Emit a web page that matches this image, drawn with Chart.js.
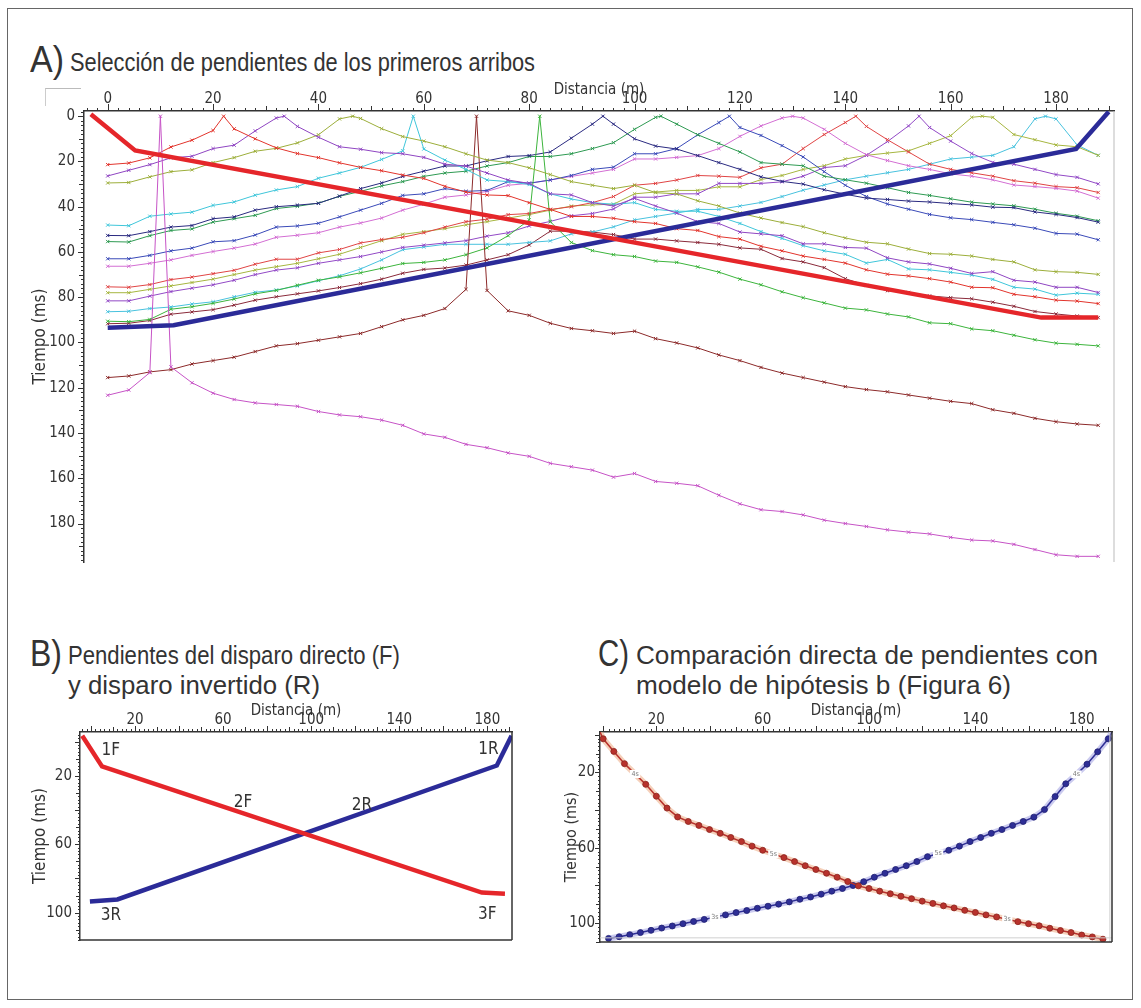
<!DOCTYPE html>
<html>
<head>
<meta charset="utf-8">
<script src="https://cdn.jsdelivr.net/npm/chart.js@4.4.1/dist/chart.umd.min.js"></script>
<style>
  html, body { margin: 0; padding: 0; background: #fff; }
  #page { position: relative; width: 1141px; height: 1008px; overflow: hidden;
          font-family: "Liberation Sans", Arial, sans-serif; color: #333; }
  .frame { position: absolute; left: 7px; top: 8px; width: 1124px; height: 990px; border: 1.5px solid #666; }
  .txt { position: absolute; white-space: nowrap; line-height: 1; transform-origin: left top; }
  .big { font-size: 36px; }
  .ttl { font-size: 26px; }
  .mark { position: absolute; left: 45px; top: 88px; width: 35px; height: 17px;
          border-top: 1px solid #bbb; border-left: 1px solid #ccc; }
  canvas { position: absolute; }
</style>
</head>
<body>
<div id="page">
  <div class="frame"></div>

  <div class="txt big" data-w="34" style="left:30px; top:42px;">A)</div>
  <div class="txt ttl" data-w="465" style="left:70px; top:49px;">Selección de pendientes de los primeros arribos</div>
  <div class="mark"></div>

  <div class="txt big" data-w="32" style="left:30px; top:636px;">B)</div>
  <div class="txt ttl" data-w="332" style="left:68px; top:642px;">Pendientes del disparo directo (F)</div>
  <div class="txt ttl" data-w="252" style="left:68px; top:672px;">y disparo invertido (R)</div>

  <div class="txt big" data-w="31" style="left:598px; top:636px;">C)</div>
  <div class="txt ttl" data-w="462" style="left:636px; top:642px;">Comparación directa de pendientes con</div>
  <div class="txt ttl" data-w="375" style="left:636px; top:672px;">modelo de hipótesis b (Figura 6)</div>

  <canvas id="chartA" width="1141" height="510" style="left:0px; top:70px;"></canvas>
  <canvas id="chartB" width="560" height="270" style="left:0px; top:690px;"></canvas>
  <canvas id="chartC" width="581" height="270" style="left:560px; top:690px;"></canvas>
</div>

<script>
// narrow the heading lines to their set widths
document.querySelectorAll('.txt[data-w]').forEach(el => {
  const w = el.getBoundingClientRect().width;
  el.style.transform = 'scaleX(' + (Number(el.dataset.w) / w).toFixed(4) + ')';
});

// ---------------- Panel A: first-arrival picks per shot ----------------
const recDist = [0, 4, 8, 12, 16, 20, 24, 28, 32, 36, 40, 44, 48, 52, 56, 60, 64, 68, 72, 76,
                 80, 84, 88, 92, 96, 100, 104, 108, 112, 116, 120, 124, 128, 132, 136, 140,
                 144, 148, 152, 156, 160, 164, 168, 172, 176, 180, 184, 188];

const shotPos = [10, 22, 33.5, 46.5, 58, 70, 82, 94, 105, 118, 130, 142, 154, 166, 178];

const t10 = [123.3, 121.0, 113.3, 110.8, 117.8, 122.4, 125.2, 126.7, 127.4, 128.2, 130.5, 132.0,
             132.8, 134.3, 136.6, 140.4, 141.9, 145.0, 146.5, 148.8, 150.3, 153.4, 154.9, 156.4,
             159.5, 157.9, 161.4, 162.2, 163.3, 167.5, 171.3, 173.9, 174.7, 176.2, 178.5, 180.0,
             181.3, 182.8, 183.8, 184.6, 186.1, 187.3, 187.7, 189.2, 191.5, 193.8, 194.5, 194.5];
const t22 = [21.4, 20.7, 18.4, 13.6, 10.6, 6.3, 5.6, 10.0, 14.0, 16.5, 18.3, 20.6,
             22.6, 24.1, 26.0, 27.5, 31.0, 33.5, 34.8, 35.1, 38.2, 41.2, 44.3, 44.3,
             45.1, 46.6, 47.4, 49.7, 50.5, 53.2, 54.3, 57.5, 59.5, 61.8, 63.3, 64.9,
             67.9, 69.8, 70.6, 71.8, 73.3, 75.6, 75.8, 78.7, 79.8, 81.3, 81.7, 82.8];
const t33 = [26.4, 23.9, 21.4, 18.4, 17.7, 14.3, 12.8, 6.5, 0.8, 4.5, 9.3, 13.5,
             14.6, 16.1, 16.6, 18.2, 21.2, 22.0, 25.1, 28.2, 29.7, 34.3, 34.8, 38.2,
             39.7, 36.3, 39.7, 42.8, 46.6, 47.4, 51.2, 52.0, 52.8, 56.4, 56.4, 58.0,
             58.3, 62.6, 64.4, 65.3, 67.2, 69.5, 68.7, 72.5, 73.3, 75.6, 75.6, 77.9];
const t47 = [29.5, 29.3, 26.8, 24.5, 23.7, 20.5, 18.3, 15.5, 14.2, 11.8, 8.2, 1.2,
             1.0, 5.5, 9.0, 11.0, 13.5, 16.6, 19.4, 20.5, 22.8, 25.8, 28.9, 30.5,
             32.0, 30.5, 33.8, 34.3, 37.4, 39.7, 42.8, 45.0, 47.0, 48.8, 51.5, 53.8,
             55.7, 56.4, 58.7, 60.7, 61.0, 61.8, 63.3, 64.4, 67.9, 68.7, 69.0, 69.9];
const t58 = [48.1, 48.4, 44.2, 43.2, 42.4, 39.4, 37.9, 34.9, 32.6, 31.1, 27.4, 25.1,
             22.6, 19.1, 15.3, 14.5, 19.4, 23.5, 28.2, 28.9, 30.2, 34.3, 36.6, 38.2,
             38.9, 38.2, 41.2, 42.0, 42.0, 44.3, 47.4, 51.0, 54.0, 57.2, 59.5, 61.0,
             64.9, 63.3, 67.5, 67.9, 69.0, 70.2, 72.1, 75.6, 76.4, 79.1, 78.2, 78.7];
const t70 = [115.5, 114.8, 113.0, 112.0, 109.5, 108.0, 106.5, 104.0, 101.5, 100.5, 99.0, 97.5,
             96.0, 93.0, 90.0, 88.0, 85.0, 76.5, 77.0, 86.0, 88.0, 91.5, 93.8, 94.8,
             96.0, 95.0, 98.3, 100.2, 102.4, 105.5, 108.0, 111.0, 113.5, 115.5, 117.5, 119.5,
             120.8, 121.8, 123.2, 124.6, 126.0, 127.0, 129.7, 131.3, 133.5, 135.0, 136.0, 136.6];
const t82 = [90.6, 90.8, 89.8, 85.3, 84.2, 82.7, 80.8, 78.5, 77.0, 74.7, 72.5, 71.0,
             69.2, 67.2, 65.1, 64.6, 63.5, 61.2, 58.2, 52.8, 45.8, 46.6, 55.8, 59.4,
             61.2, 62.0, 64.0, 64.6, 66.6, 68.9, 72.0, 74.5, 77.6, 80.2, 82.5, 84.8,
             85.6, 87.4, 88.7, 91.3, 91.7, 94.0, 94.8, 96.8, 98.8, 100.3, 100.8, 101.5];
const t94 = [52.7, 52.8, 51.0, 49.0, 48.3, 45.3, 44.5, 41.5, 40.0, 39.3, 38.5, 35.3,
             32.0, 29.5, 26.6, 24.3, 22.0, 22.0, 19.7, 17.8, 17.4, 15.8, 9.7, 3.5,
             3.5, 10.0, 13.2, 14.5, 17.4, 20.5, 23.5, 26.8, 28.8, 30.0, 32.5, 34.5,
             36.2, 36.8, 37.5, 37.9, 38.6, 39.2, 40.2, 40.4, 42.3, 43.4, 44.8, 46.8];
const t105 = [55.4, 55.6, 52.8, 50.5, 49.8, 46.8, 45.3, 43.8, 40.8, 39.8, 38.4, 35.4,
              33.2, 30.8, 28.9, 26.6, 25.1, 24.3, 22.0, 20.5, 17.8, 17.8, 16.6, 14.3,
              11.7, 5.8, 0.5, 3.5, 8.2, 12.0, 15.8, 20.5, 21.2, 21.9, 26.5, 28.1,
              29.6, 31.6, 33.7, 35.0, 36.5, 38.0, 38.8, 39.6, 41.1, 42.9, 44.2, 46.2];
const t118 = [63.0, 63.0, 61.5, 59.5, 58.3, 55.5, 55.0, 52.5, 49.0, 48.5, 47.3, 44.5,
              41.5, 38.5, 35.0, 34.3, 32.0, 33.2, 32.8, 28.9, 29.6, 28.2, 26.2, 23.5,
              22.5, 16.6, 16.6, 14.3, 8.2, 2.8, 5.0, 8.5, 13.0, 18.0, 24.5, 30.5,
              35.5, 38.8, 41.1, 43.4, 44.9, 45.7, 46.9, 48.0, 49.5, 51.8, 52.1, 54.6];
const t130 = [66.3, 66.3, 65.0, 63.5, 61.5, 59.8, 58.3, 56.5, 53.5, 52.6, 51.5, 49.0,
              47.2, 45.0, 41.5, 38.9, 35.8, 34.8, 33.2, 30.5, 29.7, 28.2, 26.6, 25.1,
              23.5, 18.9, 18.9, 18.2, 17.4, 14.3, 8.9, 4.3, 0.8, 0.8, 5.8, 12.0,
              17.0, 19.6, 21.9, 23.5, 25.5, 26.5, 28.1, 30.4, 31.1, 31.9, 33.1, 36.2];
const t142 = [75.4, 75.6, 74.4, 72.2, 71.1, 69.6, 68.1, 65.4, 63.2, 63.2, 60.4, 58.9,
              56.0, 54.5, 53.5, 51.5, 49.0, 46.6, 45.5, 43.5, 43.0, 41.2, 40.0, 38.2,
              35.5, 30.5, 29.7, 28.2, 26.2, 26.5, 27.0, 22.8, 21.2, 14.3, 8.1, 2.8,
              4.5, 10.4, 15.8, 21.2, 23.5, 25.0, 26.5, 28.5, 29.6, 31.1, 31.6, 33.7];
const t154 = [81.6, 81.6, 79.5, 77.5, 76.0, 74.5, 72.5, 70.0, 68.0, 67.0, 65.0, 63.5,
              62.0, 60.0, 58.0, 57.0, 56.0, 55.0, 53.0, 51.5, 48.5, 46.5, 44.0, 43.0,
              41.0, 35.8, 35.8, 34.3, 34.3, 29.7, 29.7, 29.7, 29.0, 26.5, 22.7, 21.9,
              17.3, 11.2, 4.3, 5.0, 11.0, 16.5, 20.4, 21.2, 23.5, 25.8, 27.0, 29.9];
const t166 = [78.0, 78.0, 76.5, 75.0, 73.5, 72.0, 70.0, 68.0, 66.5, 65.0, 63.0, 61.0,
              58.0, 55.0, 52.2, 51.0, 49.7, 48.0, 46.6, 45.0, 43.5, 41.5, 39.7, 39.2,
              38.9, 34.3, 33.5, 32.8, 32.8, 31.2, 31.2, 28.0, 26.2, 23.5, 21.9, 18.9,
              17.3, 16.3, 15.3, 12.0, 8.6, 0.5, 0.5, 8.1, 10.4, 12.7, 13.5, 17.3];
const t178 = [86.4, 86.2, 85.0, 84.3, 83.0, 82.0, 79.8, 77.8, 76.8, 75.0, 72.7, 70.5,
              67.5, 63.5, 59.0, 57.8, 56.6, 56.6, 56.6, 56.6, 55.8, 55.1, 52.0, 51.2,
              48.9, 45.8, 44.3, 42.8, 41.2, 41.2, 39.7, 38.1, 35.5, 32.7, 30.4, 28.1,
              26.5, 25.0, 23.5, 21.2, 18.9, 18.1, 17.3, 13.5, 1.2, 1.2, 12.7, 17.3];
// off-spread shot (no zero-offset trace inside the line)
const tOff = [91.7, 91.5, 90.3, 87.5, 86.5, 85.5, 83.5, 81.3, 79.8, 78.5, 77.2, 75.7,
              74.0, 72.0, 69.4, 67.7, 67.1, 65.8, 63.5, 61.2, 56.9, 50.8, 50.8, 51.2,
              52.3, 54.3, 54.3, 55.1, 55.8, 56.6, 58.2, 58.8, 62.9, 64.4, 66.9, 71.8,
              74.8, 77.1, 77.9, 79.4, 80.2, 80.7, 82.2, 84.0, 86.3, 87.4, 88.3, 89.0];

const shotTimes = [t10, t22, t33, t47, t58, t70, t82, t94, t105, t118, t130, t142, t154, t166, t178];

// selected slopes (direct shot F, reverse shot R)
const aFDist = [-3.2, 5.2, 177.2, 188.0];
const aFTime = [-0.9, 15.1, 89.0, 89.0];
const aRDist = [0.0, 12.5, 183.8, 190.0];
const aRTime = [93.5, 92.4, 14.5, -2.0];

const aDistTicks = [0, 20, 40, 60, 80, 100, 120, 140, 160, 180];
const aTimeTicks = [0, 20, 40, 60, 80, 100, 120, 140, 160, 180];

// ---------------- Panel B: slopes F / R ----------------
const bFDist = [-4.0, 5.0, 177.5, 188.0];
const bFTime = [-3.4, 14.5, 88.3, 89.0];
const bRDist = [-0.5, 12.0, 184.3, 191.0];
const bRTime = [93.5, 92.3, 14.0, -3.4];
const bDistTicks = [20, 60, 100, 140, 180];
const bTimeTicks = [20, 60, 100];

// ---------------- Panel C: model comparison ----------------
const cRedTime = [2.1, 8.8, 15.3, 20.8, 26.3, 32.6, 38.9, 43.6, 46.0, 48.1, 50.3, 52.3,
                  54.5, 56.7, 59.1, 61.3, 63.3, 65.2, 67.3, 69.5, 71.5, 73.5, 75.6, 77.9,
                  80.2, 81.6, 83.0, 84.4, 85.7, 87.0, 88.3, 89.5, 90.8, 91.9, 93.2, 94.3,
                  95.6, 96.7, 97.9, 99.2, 100.3, 101.4, 102.7, 103.9, 105.0, 106.3, 107.3, 108.5];
const cBlueDist = [190, 186, 182, 178, 174, 170, 166, 162, 158, 154, 150, 146,
                   142, 138, 134, 130, 126, 122, 118, 114, 110, 106, 102, 98,
                   94, 90, 86, 82, 78, 74, 70, 66, 62, 58, 54, 50,
                   46, 42, 38, 34, 30, 26, 22, 18, 14, 10, 6, 2];
const cBlueTime = [2.1, 9.0, 15.6, 21.0, 26.0, 32.8, 39.7, 43.7, 46.0, 48.1, 50.3, 52.3,
                   54.5, 56.7, 59.1, 61.3, 63.0, 64.7, 67.3, 69.5, 71.5, 73.5, 75.6, 78.0,
                   80.0, 81.6, 83.0, 84.6, 86.1, 87.3, 88.7, 89.9, 91.0, 92.1, 93.3, 94.4,
                   95.6, 96.8, 98.0, 99.1, 100.3, 101.5, 102.6, 103.8, 105.0, 106.1, 107.2, 108.1];
const cDistTicks = [20, 60, 100, 140, 180];
const cTimeTicks = [20, 60, 100];
// layer tags written on the model curves: [point index, text]
const cRedTags = [[3, '4s'], [16, '5s'], [38, '3s']];
const cBlueTags = [[3, '4s'], [16, '5s'], [37, '3s']];

// ---------------- styling ----------------
const FONT = '"Liberation Sans Narrow", "DejaVu Sans Condensed", "Liberation Sans", Arial, sans-serif';
const INK = '#333';
const shotColors = ['#c653c6', '#e2342c', '#8f45c2', '#9cae3a', '#3fc6da', '#8c2a2a', '#3cb43c',
                    '#2a2a80', '#2e9a52', '#3a4ab8', '#d36ed3', '#e04444', '#9249c6', '#a6b640', '#48c2de'];
const offColor = '#8a2a3a';
const pickRed = '#e5262a';
const pickBlue = '#2b2b98';

Chart.defaults.font.family = FONT;
Chart.defaults.color = INK;

// tick marks drawn outward from the axes (minor / mid / labelled)
const tickMarks = {
  id: 'tickMarks',
  afterDraw(chart, args, opts) {
    const ctx = chart.ctx, ca = chart.chartArea;
    ctx.save();
    ctx.strokeStyle = INK;
    ctx.lineWidth = 1;
    for (const id of ['x', 'y']) {
      const o = opts[id];
      if (!o) continue;
      const s = chart.scales[id];
      const lo = Math.ceil(Math.min(s.min, s.max) / o.step - 1e-9);
      const hi = Math.floor(Math.max(s.min, s.max) / o.step + 1e-9);
      ctx.beginPath();
      for (let k = lo; k <= hi; k++) {
        const v = Math.round(k * o.step * 1000) / 1000;
        let len = o.len[0];
        if (Math.abs(v % o.major) < 1e-6) len = o.len[2];
        else if (Math.abs(v % o.mid) < 1e-6) len = o.len[1];
        const p = Math.round(s.getPixelForValue(v)) + 0.5;
        if (id === 'x') { ctx.moveTo(p, ca.top); ctx.lineTo(p, ca.top - len); }
        else { ctx.moveTo(ca.left, p); ctx.lineTo(ca.left - len, p); }
      }
      ctx.stroke();
    }
    ctx.restore();
  }
};

// extra frame lines (right / bottom edges, faint guide lines)
const frameLines = {
  id: 'frameLines',
  afterDraw(chart, args, opts) {
    const ctx = chart.ctx, ca = chart.chartArea;
    ctx.save();
    for (const l of (opts.lines || [])) {
      ctx.strokeStyle = l.color;
      ctx.lineWidth = l.width;
      ctx.beginPath();
      if (l.side === 'right') { ctx.moveTo(ca.right, ca.top); ctx.lineTo(ca.right, ca.bottom); }
      if (l.side === 'bottom') { ctx.moveTo(ca.left, ca.bottom); ctx.lineTo(ca.right, ca.bottom); }
      if (l.xValue !== undefined) {
        const p = chart.scales.x.getPixelForValue(l.xValue);
        ctx.moveTo(p, ca.top); ctx.lineTo(p, ca.bottom);
      }
      if (l.yValue !== undefined) {
        const p = chart.scales.y.getPixelForValue(l.yValue);
        ctx.moveTo(ca.left, p); ctx.lineTo(ca.right, p);
      }
      ctx.stroke();
    }
    ctx.restore();
  }
};

// text labels placed at data positions or on dataset points
const curveLabels = {
  id: 'curveLabels',
  afterDatasetsDraw(chart, args, opts) {
    const ctx = chart.ctx;
    ctx.save();
    for (const l of (opts.items || [])) {
      let px, py;
      if (l.dataset !== undefined) {
        const pt = chart.data.datasets[l.dataset].data[l.index];
        px = chart.scales.x.getPixelForValue(pt.x);
        py = chart.scales.y.getPixelForValue(pt.y);
      } else {
        px = chart.scales.x.getPixelForValue(l.x);
        py = chart.scales.y.getPixelForValue(l.y);
      }
      ctx.font = l.font;
      ctx.textAlign = 'center';
      ctx.textBaseline = 'middle';
      if (l.bg) {
        const w = ctx.measureText(l.text).width + 3;
        ctx.fillStyle = l.bg;
        ctx.fillRect(px - w / 2, py - 4, w, 8);
      }
      ctx.fillStyle = l.color;
      ctx.fillText(l.text, px, py);
    }
    ctx.restore();
  }
};

function xy(xs, ys) { return xs.map((x, i) => ({ x: x, y: ys[i] })); }

function shotCurve(times, shot) {
  const pts = xy(recDist, times);
  if (shot !== null) {
    pts.push({ x: shot, y: 0 });
    pts.sort((a, b) => a.x - b.x);
  }
  return pts;
}

function axes(cfg) {
  return {
    x: {
      type: 'linear', position: 'top', min: cfg.xMin, max: cfg.xMax,
      afterBuildTicks: s => { s.ticks = cfg.xTicks.map(v => ({ value: v })); },
      afterFit: s => { s.height = cfg.xHeight; },
      grid: { display: false, drawTicks: false },
      border: { display: true, color: INK, width: 1.5 },
      ticks: { color: INK, font: { family: FONT, size: 15 }, padding: cfg.xPad, maxRotation: 0, autoSkip: false },
      title: { display: true, text: 'Distancia (m)', color: INK, font: { family: FONT, size: 15 },
               padding: { top: cfg.xTitleTop, bottom: 0 } }
    },
    y: {
      type: 'linear', reverse: true, min: cfg.yMin, max: cfg.yMax,
      afterBuildTicks: s => { s.ticks = cfg.yTicks.map(v => ({ value: v })); },
      afterFit: s => { s.width = cfg.yWidth; },
      grid: { display: false, drawTicks: false },
      border: { display: true, color: INK, width: 1.5 },
      ticks: { color: INK, font: { family: FONT, size: 15 }, padding: cfg.yPad, autoSkip: false },
      title: { display: true, text: 'Tiempo (ms)', color: INK, font: { family: FONT, size: cfg.yTitleSize },
               padding: { top: cfg.yTitleTop, bottom: 0 } }
    }
  };
}

const common = {
  responsive: false, animation: false, devicePixelRatio: 1, events: [],
  plugins: { legend: { display: false }, tooltip: { enabled: false } }
};

// ---- Panel A ----
const aSets = [];
aSets.push({ data: xy(aFDist, aFTime), borderColor: pickRed, borderWidth: 4.5, pointRadius: 0, order: 0 });
aSets.push({ data: xy(aRDist, aRTime), borderColor: pickBlue, borderWidth: 4.5, pointRadius: 0, order: 0 });
shotTimes.forEach((t, i) => {
  aSets.push({ data: shotCurve(t, shotPos[i]), borderColor: shotColors[i], borderWidth: 1,
               pointStyle: 'crossRot', pointRadius: 2.3, pointBorderWidth: 1,
               pointBorderColor: shotColors[i], order: 1 });
});
aSets.push({ data: shotCurve(tOff, null), borderColor: offColor, borderWidth: 1,
             pointStyle: 'crossRot', pointRadius: 2.3, pointBorderWidth: 1,
             pointBorderColor: offColor, order: 1 });

new Chart(document.getElementById('chartA'), {
  type: 'scatter',
  data: { datasets: aSets.map(d => Object.assign({ showLine: true, tension: 0 }, d)) },
  options: Object.assign({}, common, {
    layout: { padding: { left: 0, right: 27, top: 0, bottom: 10 } },
    scales: axes({ xMin: -4.5, xMax: 191, yMin: -2.3, yMax: 197, xTicks: aDistTicks, yTicks: aTimeTicks,
                   xHeight: 41, yWidth: 84, xPad: 3, yPad: 9, xTitleTop: 11, yTitleTop: 30, yTitleSize: 17 }),
    plugins: Object.assign({}, common.plugins, {
      tickMarks: { x: { step: 2, mid: 10, major: 20, len: [3, 5, 7] },
                   y: { step: 2, mid: 10, major: 20, len: [3, 5, 6] } },
      frameLines: { lines: [{ side: 'right', color: '#bbb', width: 1 }] }
    })
  }),
  plugins: [tickMarks, frameLines]
});

// ---- Panel B ----
new Chart(document.getElementById('chartB'), {
  type: 'scatter',
  data: { datasets: [
    { data: xy(bFDist, bFTime), showLine: true, borderColor: pickRed, borderWidth: 4.5, pointRadius: 0 },
    { data: xy(bRDist, bRTime), showLine: true, borderColor: pickBlue, borderWidth: 4.5, pointRadius: 0 }
  ] },
  options: Object.assign({}, common, {
    layout: { padding: { left: 0, right: 48, top: 0, bottom: 20 } },
    scales: axes({ xMin: -5, xMax: 191.2, yMin: -5.6, yMax: 116, xTicks: bDistTicks, yTicks: bTimeTicks,
                   xHeight: 42, yWidth: 80, xPad: 3, yPad: 8, xTitleTop: 12, yTitleTop: 30, yTitleSize: 17 }),
    plugins: Object.assign({}, common.plugins, {
      tickMarks: { x: { step: 2, mid: 10, major: 20, len: [3, 5, 6] },
                   y: { step: 2, mid: 10, major: 20, len: [2, 4, 5] } },
      frameLines: { lines: [{ side: 'right', color: INK, width: 1.5 }, { side: 'bottom', color: INK, width: 1.5 }] },
      curveLabels: { items: [
        { x: 9, y: 5, text: '1F', font: '17px ' + FONT, color: INK },
        { x: 69, y: 35.5, text: '2F', font: '17px ' + FONT, color: INK },
        { x: 123, y: 37.5, text: '2R', font: '17px ' + FONT, color: INK },
        { x: 180.5, y: 4.5, text: '1R', font: '17px ' + FONT, color: INK },
        { x: 9, y: 102, text: '3R', font: '17px ' + FONT, color: INK },
        { x: 180, y: 101, text: '3F', font: '17px ' + FONT, color: INK }
      ] }
    })
  }),
  plugins: [tickMarks, frameLines, curveLabels]
});

// ---- Panel C ----
const cRed = [{ x: -1.2, y: -1.5 }].concat(xy(recDist, cRedTime));
const cBlue = [{ x: 191.4, y: -1.5 }].concat(xy(cBlueDist, cBlueTime));
const redSkip = cRedTags.map(t => t[0] + 1);
const blueSkip = cBlueTags.map(t => t[0] + 1);

const tagItems = cRedTags.map(t => ({ dataset: 2, index: t[0] + 1, text: t[1], font: '7px ' + FONT, color: '#7a7a7a', bg: '#fff' }))
  .concat(cBlueTags.map(t => ({ dataset: 3, index: t[0] + 1, text: t[1], font: '7px ' + FONT, color: '#7a7a7a', bg: '#fff' })));

new Chart(document.getElementById('chartC'), {
  type: 'scatter',
  data: { datasets: [
    { data: cRed, showLine: true, borderColor: 'rgba(236,170,130,0.55)', borderWidth: 6, pointRadius: 0, order: 2 },
    { data: cBlue, showLine: true, borderColor: 'rgba(160,160,225,0.55)', borderWidth: 6, pointRadius: 0, order: 2 },
    { data: cRed, showLine: true, borderColor: '#b8322c', borderWidth: 1.5, order: 1,
      pointRadius: c => (c.dataIndex === 0 || redSkip.includes(c.dataIndex)) ? 0 : 3,
      pointBackgroundColor: '#b8322c', pointBorderColor: '#8a2420', pointBorderWidth: 0.8 },
    { data: cBlue, showLine: true, borderColor: '#2e2e96', borderWidth: 1.5, order: 1,
      pointRadius: c => (c.dataIndex === 0 || blueSkip.includes(c.dataIndex)) ? 0 : 3,
      pointBackgroundColor: '#2e2e96', pointBorderColor: '#20206e', pointBorderWidth: 0.8 }
  ] },
  options: Object.assign({}, common, {
    layout: { padding: { left: 0, right: 29, top: 0, bottom: 18 } },
    scales: axes({ xMin: -1.2, xMax: 191.4, yMin: -1.5, yMax: 110, xTicks: cDistTicks, yTicks: cTimeTicks,
                   xHeight: 42, yWidth: 40, xPad: 3, yPad: 5, xTitleTop: 12, yTitleTop: 2, yTitleSize: 16 }),
    plugins: Object.assign({}, common.plugins, {
      tickMarks: { x: { step: 2, mid: 10, major: 20, len: [3, 5, 6] },
                   y: { step: 2, mid: 10, major: 20, len: [2, 4, 5] } },
      frameLines: { lines: [
        { xValue: 190.6, color: '#d0d0d0', width: 1 },
        { yValue: 107.8, color: '#d0d0d0', width: 1 },
        { side: 'right', color: INK, width: 1.5 },
        { side: 'bottom', color: INK, width: 1.5 }
      ] },
      curveLabels: { items: tagItems }
    })
  }),
  plugins: [tickMarks, frameLines, curveLabels]
});
</script>
</body>
</html>
